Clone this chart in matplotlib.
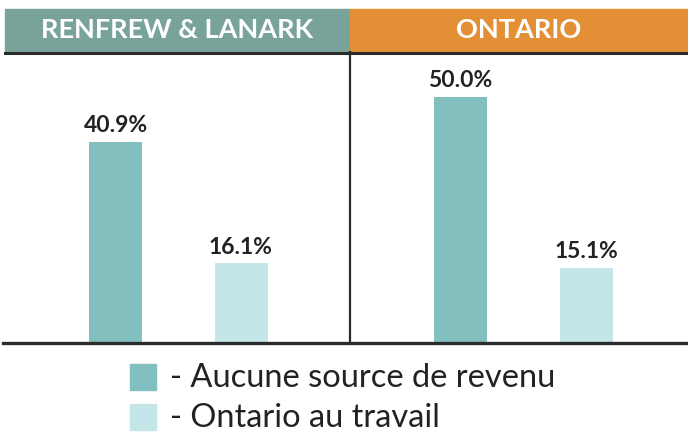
import matplotlib

matplotlib.use("Agg")
import matplotlib.pyplot as plt  # noqa: E402
from matplotlib.patches import Rectangle  # noqa: E402
from matplotlib.lines import Line2D  # noqa: E402

regions = ["RENFREW & LANARK", "ONTARIO"]
series = ["- Aucune source de revenu", "- Ontario au travail"]
aucune = [40.9, 50.0]
ontario_travail = [16.1, 15.1]

header_colors = ["#78A29A", "#E38F36"]
bar_colors = ["#84BFC0", "#C5E6E8"]
line_color = "#2b2b2b"

W, H = 688, 437
fig = plt.figure(figsize=(W / 100, H / 100), dpi=100)


def fx(px):
    return px / W


def fy(py):
    return 1 - py / H


# panel extents in pixels: (left, right, first bar center, spacing)
panels = [(5, 350, 116, 125), (350, 688, 460, 126.5)]
top_px, base_px = 53, 342
ymax = 289 / 4.9

for i, (x0, x1, c0, sp) in enumerate(panels):
    ax = fig.add_axes([fx(x0), fy(base_px), fx(x1 - x0), (base_px - top_px) / H])
    ax.set_xlim((x0 - c0) / sp, (x1 - c0) / sp)
    ax.set_ylim(0, ymax)
    vals = [aucune[i], ontario_travail[i]]
    bars = ax.bar([0, 1], vals, width=53 / sp, color=bar_colors)
    for b, v in zip(bars, vals):
        ax.annotate(f"{v:.1f}%", (b.get_x() + b.get_width() / 2, v),
                    xytext=(0, 4), textcoords="offset points",
                    ha="center", va="bottom", fontsize=16.5,
                    fontweight="bold", color="#222222", family="Lato")
    ax.axis("off")

    # header band
    fig.patches.append(Rectangle((fx(x0), fy(51)), fx(x1 - x0), 42 / H,
                                 transform=fig.transFigure,
                                 color=header_colors[i], zorder=0))
    fig.text(fx((x0 + x1) / 2), fy(30), regions[i], ha="center", va="center",
             fontsize=19.5, fontweight="bold", color="white", family="Lato")

# frame lines
fig.lines.append(Line2D([fx(5), fx(688)], [fy(52.5)] * 2, transform=fig.transFigure,
                        color=line_color, lw=2.2))
fig.lines.append(Line2D([fx(350)] * 2, [fy(52), fy(342)], transform=fig.transFigure,
                        color=line_color, lw=1.6))
fig.lines.append(Line2D([fx(3), fx(688)], [fy(342.5)] * 2, transform=fig.transFigure,
                        color=line_color, lw=2.4))

# legend
for j, (lab, col) in enumerate(zip(series, bar_colors)):
    yc = 377 + 40 * j
    fig.patches.append(Rectangle((fx(130), fy(yc + 13)), fx(26), 26 / H,
                                 transform=fig.transFigure, color=col))
    fig.text(fx(170), fy(yc + 1), lab, ha="left", va="center", fontsize=23.5,
             fontweight="normal", color="#222222", family="Lato")

fig.savefig("out.png", dpi=100)
